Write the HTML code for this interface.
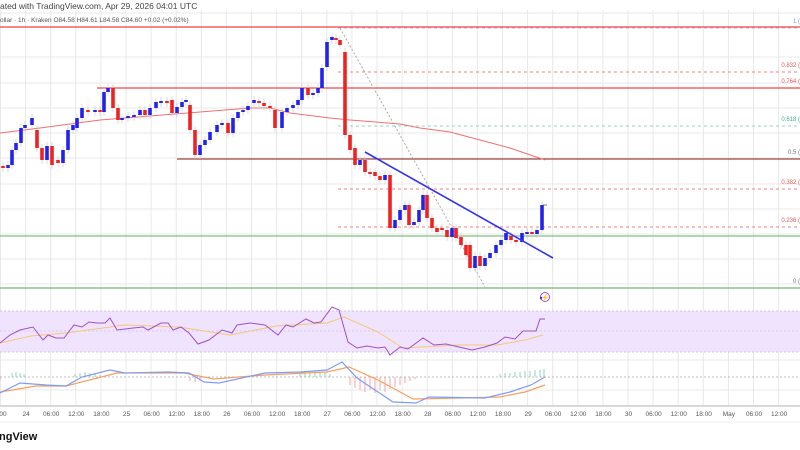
<!DOCTYPE html>
<html><head><meta charset="utf-8"><style>
html,body{margin:0;padding:0;background:#fff;width:800px;height:450px;overflow:hidden}
svg{display:block;font-family:"Liberation Sans",sans-serif}
</style></head><body>
<svg id="s" width="800" height="450" xmlns="http://www.w3.org/2000/svg"></svg>
<script>
const s=document.getElementById('s');let h='';
for(let i=0;i<33;i++){let x=25.1*i+0.5;h+=`<line x1="${x}" y1="10" x2="${x}" y2="405" stroke="#e8e8e8" stroke-width="1"/>`;}
[13,57,83,108,133,158,184,209,234,259,284,330,360,390].forEach(y=>h+=`<line x1="0" y1="${y}" x2="800" y2="${y}" stroke="#e8e8e8"/>`);
h+=`<rect x="0" y="311" width="800" height="41" fill="#efe3fd"/>`;
[311,352].forEach(y=>h+=`<line x1="0" y1="${y}" x2="800" y2="${y}" stroke="#cfc0e8" stroke-dasharray="2,2"/>`);
h+=`<line x1="0" y1="331" x2="800" y2="331" stroke="#d8c8ee" stroke-dasharray="2,2"/>`;
h+=`<line x1="0" y1="377" x2="800" y2="377" stroke="#aaa" stroke-dasharray="2,2" stroke-width="0.7"/>`;
const fib=[[28,'1 (','#7a9ccc','#aabbd8'],[72,'0.832 (','#e05a5a','#f08080'],[88,'0.764 (','#e05a5a','#f08080'],[126,'0.618 (','#3cb08a','#8fd8bf'],[159,'0.5 (','#777','#bbb'],[189,'0.382 (','#e05a5a','#f08080'],[227,'0.236 (','#e05a5a','#f08080'],[288,'0 (','#777','#aaa']];
fib.forEach(f=>{h+=`<line x1="338" y1="${f[0]}" x2="800" y2="${f[0]}" stroke="${f[3]}" stroke-dasharray="3,3" stroke-width="1"/><text x="800" y="${f[0]-5}" font-size="6" fill="${f[2]}" text-anchor="end">${f[1]}</text>`;});
h+=`<line x1="0" y1="27" x2="800" y2="27" stroke="#f06060" stroke-width="1.5"/>`;
h+=`<line x1="97" y1="88" x2="800" y2="88" stroke="#f04848" stroke-width="1.3"/>`;
h+=`<line x1="177" y1="159" x2="800" y2="159" stroke="#8b1a1a" stroke-width="1"/>`;
h+=`<line x1="0" y1="236" x2="800" y2="236" stroke="#80c080" stroke-width="1.3"/>`;
h+=`<line x1="0" y1="288" x2="800" y2="288" stroke="#70b870" stroke-width="1.3"/>`;
h+=`<polyline fill="none" stroke="#f07070" stroke-width="1" points="0,133 40,128 100,120 150,116 200,112 250,108 270,108 290,113 330,118 350,120 400,124 420,128 450,132 480,140 510,148 545,160"/>`;
h+=`<line x1="340" y1="28" x2="485" y2="287" stroke="#aaa" stroke-dasharray="2,2"/>`;
const c=[[3,166,168],[8,168,165],[12,165,150],[16,150,143],[21,143,128],[25,128,125],[32,125,118],[37,130,148],[42,148,160],[47,160,146],[52,146,165],[58,160,163],[63,163,150],[68,150,130],[73,130,125],[77,128,118],[82,118,108],[88,110,112],[95,112,110],[100,110,112],[104,112,92],[108,92,88],[113,88,108],[118,108,120],[122,120,118],[128,118,116],[134,116,115],[140,115,110],[145,110,115],[150,115,108],[156,108,102],[161,102,101],[167,101,102],[172,100,113],[177,113,107],[182,107,102],[186,102,100],[190,105,130],[195,130,155],[200,155,145],[205,145,140],[210,140,132],[217,132,125],[222,125,123],[228,123,133],[233,133,118],[238,118,112],[243,112,110],[248,110,106],[254,103,100],[259,101,103],[264,103,106],[270,106,108],[275,110,128],[282,128,112],[287,112,108],[293,108,105],[298,105,100],[302,100,88],[308,88,95],[313,95,93],[318,93,88],[322,88,68],[327,67,42],[332,40,37],[336,38,40],[340,40,45],[345,52,135],[350,135,150],[355,148,165],[360,165,160],[365,160,172],[370,172,172],[375,172,176],[380,176,180],[385,180,175],[390,175,228],[395,228,220],[400,220,210],[405,210,205],[409,205,225],[414,225,222],[419,222,210],[423,210,195],[427,195,218],[432,218,228],[437,228,232],[442,228,230],[447,230,237],[452,237,228],[456,228,238],[461,237,245],[466,245,255],[470,245,268],[475,268,256],[480,256,266],[485,266,258],[490,258,253],[496,253,245],[501,245,240],[506,240,233],[511,236,240],[516,240,242],[522,242,233],[527,233,232],[532,232,234],[537,234,230],[542,230,205]];
c.forEach(k=>{let[x,o,cl]=k;let up=cl<o;let col=up?'#2222ee':'#ee2222';let t=Math.min(o,cl),b=Math.max(o,cl);if(b-t<2)b=t+2;
h+=`<line x1="${x}" y1="${t-4}" x2="${x}" y2="${b+4}" stroke="#ccc" stroke-width="0.7"/><rect x="${x-1.8}" y="${t}" width="3.6" height="${b-t}" fill="${col}"/>`;});
h+=`<line x1="543" y1="205" x2="547" y2="205" stroke="#555" stroke-width="0.8"/>`;
h+=`<line x1="365" y1="152" x2="553" y2="258" stroke="#3333ee" stroke-width="1.6"/>`;
h+=`<circle cx="545" cy="297" r="4.5" fill="none" stroke="#a050d0" stroke-width="1"/><text x="545" y="300" font-size="7" fill="#a050d0" text-anchor="middle">⚡</text><circle cx="541" cy="298" r="1.2" fill="#3333ee"/>`;
h+=`<polyline fill="none" stroke="#f5c878" stroke-width="1" points="0,343 31,336 66,333 125,325 179,327 230,335 276,326 327,323 344,317 378,332 403,348 459,345 497,345 525,340 543,335"/>`;
h+=`<polyline fill="none" stroke="#a050c8" stroke-width="1" points="0,343 10,335 20,330 33,327 43,340 48,335 56,338 64,338 74,325 82,327 89,322 97,323 105,323 110,318 117,330 133,328 143,327 148,330 161,323 168,323 173,330 181,327 189,333 198,344 209,340 222,330 232,333 237,325 250,323 265,325 278,335 286,325 293,327 306,319 314,323 321,322 332,307 339,310 348,342 357,348 367,346 378,348 385,347 390,355 400,347 408,349 423,338 434,345 446,344 459,347 472,350 485,347 497,343 505,337 515,339 523,331 536,331 540,319 545,319"/>`;
const hb=[[12,373],[16,372],[20,373],[24,374],[75,374],[80,373],[85,372],[90,373],[95,374],[100,375],[300,374],[305,373],[310,372],[315,371],[320,372],[325,373],[330,374],[500,374],[505,373],[510,373],[515,372],[520,372],[525,371],[530,371],[535,370],[540,370],[544,369]];
hb.forEach(b=>h+=`<line x1="${b[0]}" y1="377" x2="${b[0]}" y2="${b[1]}" stroke="#6ccaa8" stroke-width="0.8"/>`);
const hr=[[0,380],[190,381],[195,382],[200,381],[350,385],[355,388],[360,390],[365,392],[370,390],[375,393],[380,390],[385,392],[390,389],[395,387],[400,385],[405,383],[410,381],[415,379]];
hr.forEach(b=>h+=`<line x1="${b[0]}" y1="377" x2="${b[0]}" y2="${b[1]}" stroke="#f59090" stroke-width="0.8"/>`);
h+=`<polyline fill="none" stroke="#f5a060" stroke-width="1.2" points="0,392 36,386 66,386 117,373 184,373 214,379 265,375 327,372 349,367 378,380 413,399 459,398 500,397 525,392 545,385"/>`;
h+=`<polyline fill="none" stroke="#7f9cf5" stroke-width="1.2" points="0,393 20,383 46,385 66,386 82,377 110,370 125,373 168,372 189,373 204,382 219,383 265,373 301,372 327,370 342,362 357,378 378,392 393,402 416,403 429,397 485,398 510,392 531,385 545,377"/>`;
h+=`<line x1="0" y1="406" x2="800" y2="406" stroke="#ccc" stroke-width="1.5"/><line x1="0" y1="422" x2="800" y2="422" stroke="#eee"/>`;
const lab=['00','24','06:00','12:00','18:00','25','06:00','12:00','18:00','26','06:00','12:00','18:00','27','06:00','12:00','18:00','28','06:00','12:00','18:00','29','06:00','12:00','18:00','30','06:00','12:00','18:00','May','06:00','12:00','1'];
lab.forEach((t,i)=>{let x=i==0?3:25.1*i+1;h+=`<text x="${x}" y="416" font-size="6.5" fill="#555" text-anchor="middle">${t}</text>`;});
h+=`<text x="0" y="9" font-size="8.5" fill="#444">ated with TradingView.com, Apr 29, 2026 04:01 UTC</text>`;
h+=`<text x="0" y="22" font-size="6.5" fill="#555">ollar · 1h · Kraken  O84.58  H84.61  L84.58  C84.60  +0.02 (+0.02%)</text>`;
h+=`<text x="-1" y="440" font-size="11" font-weight="bold" fill="#111">ngView</text>`;
s.innerHTML=h;
</script>
</body></html>
